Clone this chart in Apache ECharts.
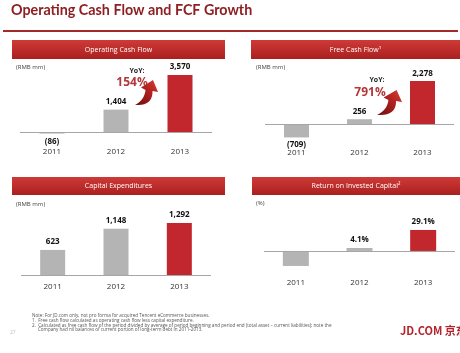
<!DOCTYPE html>
<html>
<head>
<meta charset="utf-8">
<script src="https://cdn.jsdelivr.net/npm/echarts@6/dist/echarts.min.js"></script>
<style>html,body{margin:0;padding:0;background:#fff}#c{width:460px;height:353px}</style>
</head>
<body>
<div id="c"></div>
<script>
const years = ['2011', '2012', '2013'];
const ocfValues = [-86, 1404, 3570];
const fcfValues = [-709, 256, 2278];
const capexValues = [623, 1148, 1292];
const roicValues = [-20.8, 4.1, 29.1];
const roicLabels = ['', '4.1%', '29.1%'];
const panelTitles = ['Operating Cash Flow', 'Free Cash Flow\u00b9', 'Capital Expenditures', 'Return on Invested Capital\u00b2'];
const ocfYoY = '154%';
const fcfYoY = '791%';
const notes = [
  'Note: For JD.com only, not pro forma for acquired Tencent eCommerce businesses.',
  '1.  Free cash flow calculated as operating cash flow less capital expenditure.',
  '2.  Calculated as free cash flow of the period divided by average of period beginning and period end (total asset \u2013 current liabilities); note the',
  '     Company had nil balances of current portion of long-term debt in 2011-2013.'
];

const RED = '#c1272d';
const GRAY = '#b4b4b4';
const FONT = 'Open Sans';

function fmtNum(v) {
  const s = Math.abs(v).toLocaleString('en-US');
  return v < 0 ? '(' + s + ')' : s;
}
function items(vals) {
  return vals.map((v, i) => ({
    value: v,
    itemStyle: { color: i === vals.length - 1 ? RED : GRAY },
    label: { position: v < 0 ? 'bottom' : 'top' }
  }));
}
function zeroLine() {
  return {
    silent: true, symbol: 'none', animation: false,
    label: { show: false },
    lineStyle: { color: '#a6a6a6', width: 1, type: 'solid' },
    data: [{ yAxis: 0 }]
  };
}

const grids = [
  { left: 20, top: 68, width: 192, height: 77 },
  { left: 265, top: 67.4, width: 189, height: 79.3 },
  { left: 21, top: 210.6, width: 190, height: 64.4 },
  { left: 264, top: 222.1, width: 191, height: 50.5 }
];
const yRanges = [[-800, 4000], [-1200, 3000], [0, 1600], [-30, 40]];
const labelMargins = [3, 2, 8, 6];

const xAxes = grids.map((g, i) => ({
  type: 'category', gridIndex: i, data: years,
  axisLine: { show: false, onZero: false }, axisTick: { show: false },
  axisLabel: { margin: labelMargins[i], color: '#333', fontSize: 8, fontFamily: FONT }
}));
const yAxes = grids.map((g, i) => ({
  type: 'value', gridIndex: i, min: yRanges[i][0], max: yRanges[i][1],
  show: false, splitLine: { show: false }
}));

const labelStyle = { show: true, fontSize: 8, fontWeight: 'bold', color: '#111', fontFamily: FONT };

const series = [
  { type: 'bar', xAxisIndex: 0, yAxisIndex: 0, barWidth: 25, data: items(ocfValues),
    label: Object.assign({}, labelStyle, { distance: 4, formatter: p => fmtNum(p.value) }), markLine: zeroLine() },
  { type: 'bar', xAxisIndex: 1, yAxisIndex: 1, barWidth: 25, data: items(fcfValues),
    label: Object.assign({}, labelStyle, { distance: 3, formatter: p => fmtNum(p.value) }), markLine: zeroLine() },
  { type: 'bar', xAxisIndex: 2, yAxisIndex: 2, barWidth: 25, data: items(capexValues),
    label: Object.assign({}, labelStyle, { distance: 4, formatter: p => fmtNum(p.value) }), markLine: zeroLine() },
  { type: 'bar', xAxisIndex: 3, yAxisIndex: 3, barWidth: 26, data: items(roicValues),
    label: Object.assign({}, labelStyle, { distance: 4, formatter: p => roicLabels[p.dataIndex] }), markLine: zeroLine() }
];

const headerFill = new echarts.graphic.LinearGradient(0, 0, 0, 1, [
  { offset: 0, color: '#cf3a37' }, { offset: 1, color: '#a9201f' }
]);
const headers = [[12, 40, 213, 19], [251, 40, 209, 19], [12, 177, 213, 18], [252, 177, 208, 18]];
const graphic = [
  { type: 'text', x: 11, y: 10, style: { text: 'Operating Cash Flow and FCF Growth', font: 'bold 14.3px Lato', fill: '#8e1f22', verticalAlign: 'middle' } },
  { type: 'rect', shape: { x: 3, y: 30, width: 455, height: 2 }, style: { fill: '#a3292b' } }
];
headers.forEach((h, i) => {
  graphic.push({ type: 'rect', shape: { x: h[0], y: h[1], width: h[2], height: h[3] }, style: { fill: headerFill } });
  graphic.push({ type: 'text', x: h[0] + h[2] / 2, y: h[1] + h[3] / 2,
    style: { text: panelTitles[i], fill: '#fff', font: '7px "Open Sans"', align: 'center', verticalAlign: 'middle' } });
});
[[16, 67, '(RMB mm)'], [256, 67, '(RMB mm)'], [16, 204, '(RMB mm)'], [256, 203, '(%)']].forEach(u => {
  graphic.push({ type: 'text', x: u[0], y: u[1], style: { text: u[2], fill: '#444', font: '6px "Open Sans"', verticalAlign: 'middle' } });
});
[[137, 71, 132, 83, ocfYoY], [377, 79.5, 370, 93, fcfYoY]].forEach(t => {
  graphic.push({ type: 'text', x: t[0], y: t[1], style: { text: 'YoY:', fill: '#222', font: 'bold 7px "Open Sans"', align: 'center', verticalAlign: 'middle' } });
  graphic.push({ type: 'text', x: t[2], y: t[3], style: { text: t[4], fill: '#b2383a', font: 'bold 12px "Open Sans"', align: 'center', verticalAlign: 'middle' } });
});

// curved arrow outline (decoration), in a 23x25 local box
function quad(p0, c, p1, n) {
  const out = [];
  for (let k = 1; k <= n; k++) {
    const t = k / n, a = (1 - t) * (1 - t), b = 2 * t * (1 - t), d = t * t;
    out.push([a * p0[0] + b * c[0] + d * p1[0], a * p0[1] + b * c[1] + d * p1[1]]);
  }
  return out;
}
function arrowPoints(ox, oy, sx, sy) {
  let pts = [[0, 25]];
  pts = pts.concat(quad([0, 25], [18, 26], [17.5, 11], 10));
  pts.push([23, 12], [18, 0], [6, 7.5], [10.5, 10]);
  pts = pts.concat(quad([10.5, 10], [9.5, 20], [0, 25], 10));
  return pts.map(p => [ox + p[0] * sx, oy + p[1] * sy]);
}
const arrowFill = new echarts.graphic.LinearGradient(0, 1, 1, 0, [
  { offset: 0, color: '#6e0f0f' }, { offset: 0.6, color: '#b3221f' }, { offset: 1, color: '#d8403a' }
]);
[[135, 80, 1, 1], [377, 90, 25 / 23, 1]].forEach(a => {
  graphic.push({ type: 'polygon', shape: { points: arrowPoints(a[0], a[1], a[2], a[3]) }, style: { fill: arrowFill } });
});
const noteY = [316, 320.7, 325.4, 330];
notes.forEach((n, i) => {
  graphic.push({ type: 'text', x: 32, y: noteY[i], style: { text: n, fill: '#555', font: '4.6px "Open Sans"', verticalAlign: 'middle' } });
});
graphic.push({ type: 'text', x: 10, y: 333, style: { text: '27', fill: '#bbb', font: '5px "Open Sans"', verticalAlign: 'middle' } });
graphic.push({ type: 'text', x: 400, y: 331, style: { text: 'JD.COM 京东', fill: '#b3232b', font: 'bold 11px "Noto Sans CJK SC"', verticalAlign: 'middle' } });

const chart = echarts.init(document.getElementById('c'), null, { renderer: 'canvas' });
chart.setOption({
  animation: false,
  backgroundColor: '#fff',
  grid: grids,
  xAxis: xAxes,
  yAxis: yAxes,
  series: series,
  graphic: graphic
});
</script>
</body>
</html>
